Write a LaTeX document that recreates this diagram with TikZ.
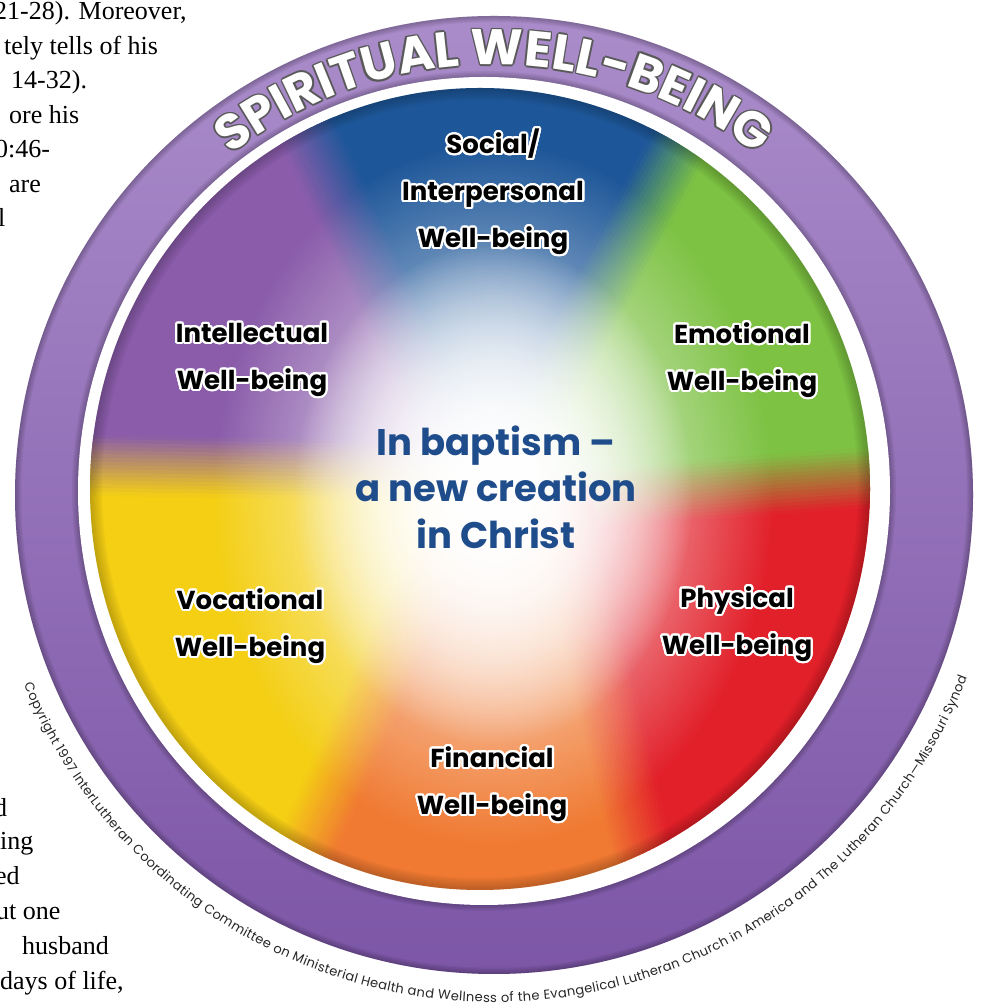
\documentclass[tikz,border=0pt]{standalone}
\usepackage{fontspec}
\setmainfont{Poppins}
\newfontfamily\pagefont{Liberation Serif}
\usepackage{contour}
\contournumber{24}
\contourlength{2.2pt}
\usetikzlibrary{calc, decorations.text, fadings}

\definecolor{wheelGreen}{HTML}{7DC243}
\definecolor{wheelBlue}{HTML}{1E5799}
\definecolor{wheelPurple}{HTML}{8A5CAA}
\definecolor{wheelYellow}{HTML}{F4CF14}
\definecolor{wheelOrange}{HTML}{F07A32}
\definecolor{wheelRed}{HTML}{E2202A}
\definecolor{ringTop}{HTML}{AA8CCA}
\definecolor{ringBot}{HTML}{7D56A7}
\definecolor{centreBlue}{HTML}{1F4C8B}

\newcommand\halo[1]{\contour{white}{#1}}
\newcommand\ringfont{\fontsize{50}{50}\selectfont\bfseries}
\newcommand\copyfont{\fontsize{13}{13}\selectfont}

\tikzfading[name=glowfade, inner color=transparent!0, outer color=transparent!100]

\tikzset{
    lbl/.style={font=\fontsize{26}{47}\selectfont\bfseries, align=center, text=black},
    centretxt/.style={font=\fontsize{37}{46.5}\selectfont\bfseries, align=center, text=centreBlue},
    pagetxt/.style={font=\pagefont\fontsize{26}{26}\selectfont, anchor=base west, inner sep=0pt},
}

\begin{document}
\begin{tikzpicture}[x=1pt, y=1pt]
    \useasboundingbox (0,0) rectangle (987,1008);
    \fill[white] (0,0) rectangle (987,1008);

    \coordinate (cRing) at (494,513);
    \coordinate (cDisc) at (480,519);
    \coordinate (cGap) at (484,517);
    \coordinate (cGlow) at (493,514);

    % column of body text beside the wheel
    \foreach \x/\y/\t in
       {-6/988/{21-28). Moreover,},
        4/953/{tely tells of his},
        11/919/{14-32).},
        9/884/{ore his},
        -5/850/{0:46-},
        9/815/{are},
        -2/781/{l},
        -6/191/{d},
        0/158/{ing},
        -5/123/{ed},
        -4/88/{ut one},
        22/53/{husband},
        0/18/{days of life,}
        }
        {
            \node[pagetxt] (tPage\y) at (\x,\y) {\t};
        };

    % outer ring
    \shade[top color=ringTop, bottom color=ringBot] (cRing) circle (479);
    \begin{scope}
        \clip (cRing) circle (479);
        \foreach \k in {1,...,5}
            \draw[black, opacity=0.05, line width=\k*2.5] (cRing) circle (479);
        \foreach \k in {1,...,4}
            \draw[black, opacity=0.06, line width=\k*3] (cGap) ellipse [x radius=406, y radius=414];
    \end{scope}
    \fill[white] (cGap) ellipse [x radius=406, y radius=414];

    % coloured wheel
    \begin{scope}
        \clip (cDisc) ellipse [x radius=390, y radius=401];
        \foreach \ax/\ay/\aa/\bx/\by/\ba/\col in
           {482/503/4/495/516/62/wheelGreen,
            495/516/62/476/516/115/wheelBlue,
            476/516/115/482/536/179/wheelPurple,
            482/536/179/464/516/246/wheelYellow,
            464/516/246/559/516/283/wheelOrange,
            559/516/283/482/503/364/wheelRed}
            {
                \pgfmathsetmacro\midang{(\aa+\ba)/2}
                \fill[\col] (\ax,\ay) -- ($(\ax,\ay)+(\aa:700)$) -- ($(cDisc)+(\midang:900)$)
                    -- ($(\bx,\by)+(\ba:700)$) -- (\bx,\by) -- (cDisc) -- cycle;
            };
        % soft seams between the sectors
        \foreach \px/\py/\pa/\ca/\cb in
           {482/503/4/wheelRed/wheelGreen,
            495/516/62/wheelGreen/wheelBlue,
            476/516/115/wheelBlue/wheelPurple,
            482/536/179/wheelPurple/wheelYellow,
            464/516/246/wheelYellow/wheelOrange,
            559/516/283/wheelOrange/wheelRed}
            {
                \foreach \i in {0,...,15}
                {
                    \pgfmathsetmacro\oa{-30+\i*60/16}
                    \pgfmathsetmacro\ob{\oa+60/16+0.6}
                    \pgfmathsetmacro\mix{(\i+0.5)*100/16}
                    \fill[\cb!\mix!\ca] ($(\px,\py)+(\pa+90:\oa)$) -- ($(\px,\py)+(\pa:700)+(\pa+90:\oa)$)
                        -- ($(\px,\py)+(\pa:700)+(\pa+90:\ob)$) -- ($(\px,\py)+(\pa+90:\ob)$) -- cycle;
                };
            };
        % light in the middle
        \fill[white, path fading=glowfade] (cGlow) ellipse [x radius=280, y radius=350];
        \fill[white, path fading=glowfade] (cGlow) ellipse [x radius=200, y radius=250];
        \fill[white, path fading=glowfade] (cGlow) ellipse [x radius=200, y radius=250];
        \foreach \k in {1,...,6}
            \draw[black, opacity=0.035, line width=\k*4] (cDisc) ellipse [x radius=390, y radius=401];
    \end{scope}

    % labels
    \node[lbl] (nSocial) at (493,815) {\halo{Social/}\\\halo{Interpersonal}\\\halo{Well-being}};
    \node[lbl] (nEmotional) at (742,647) {\halo{Emotional}\\\halo{Well-being}};
    \node[lbl] (nPhysical) at (737,383) {\halo{Physical}\\\halo{Well-being}};
    \node[lbl] (nFinancial) at (492,223) {\halo{Financial}\\\halo{Well-being}};
    \node[lbl] (nVocational) at (250,381) {\halo{Vocational}\\\halo{Well-being}};
    \node[lbl] (nIntellectual) at (252,647) {\halo{Intellectual}\\\halo{Well-being}};
    \node[centretxt] (nCentre) at (496,521) {In baptism –\\a new creation\\in Christ};

    % lettering on the ring
    \coordinate (cRingTxt) at ($(cRing)+(170:430)$);
    \foreach \dx/\dy in {1.6/0, -1.6/0, 0/1.6, 0/-1.6, 1.1/1.1, -1.1/1.1, 1.1/-1.1, -1.1/-1.1}
        \path[decorate, decoration={text along path, text align=center, text color=black!65,
                text={|\ringfont|SPIRITUAL WELL-BEING}}]
            ([shift={(\dx,\dy)}]cRingTxt) arc[start angle=170, end angle=10, radius=430];
    \path[decorate, decoration={text along path, text align=center, text color=white,
            text={|\ringfont|SPIRITUAL WELL-BEING}}]
        (cRingTxt) arc[start angle=170, end angle=10, radius=430];

    \coordinate (cCopyTxt) at ($(cRing)+(202:507)$);
    \path[decorate, decoration={text along path, text align={fit to path}, text color=black!85,
            text={|\copyfont|Copyright 1997 InterLutheran Coordinating Committee on Ministerial Health and Wellness of the Evangelical Lutheran Church in America and The Lutheran Church—Missouri Synod.}}]
        (cCopyTxt) arc[start angle=202, end angle=339, radius=507];
\end{tikzpicture}
\end{document}
